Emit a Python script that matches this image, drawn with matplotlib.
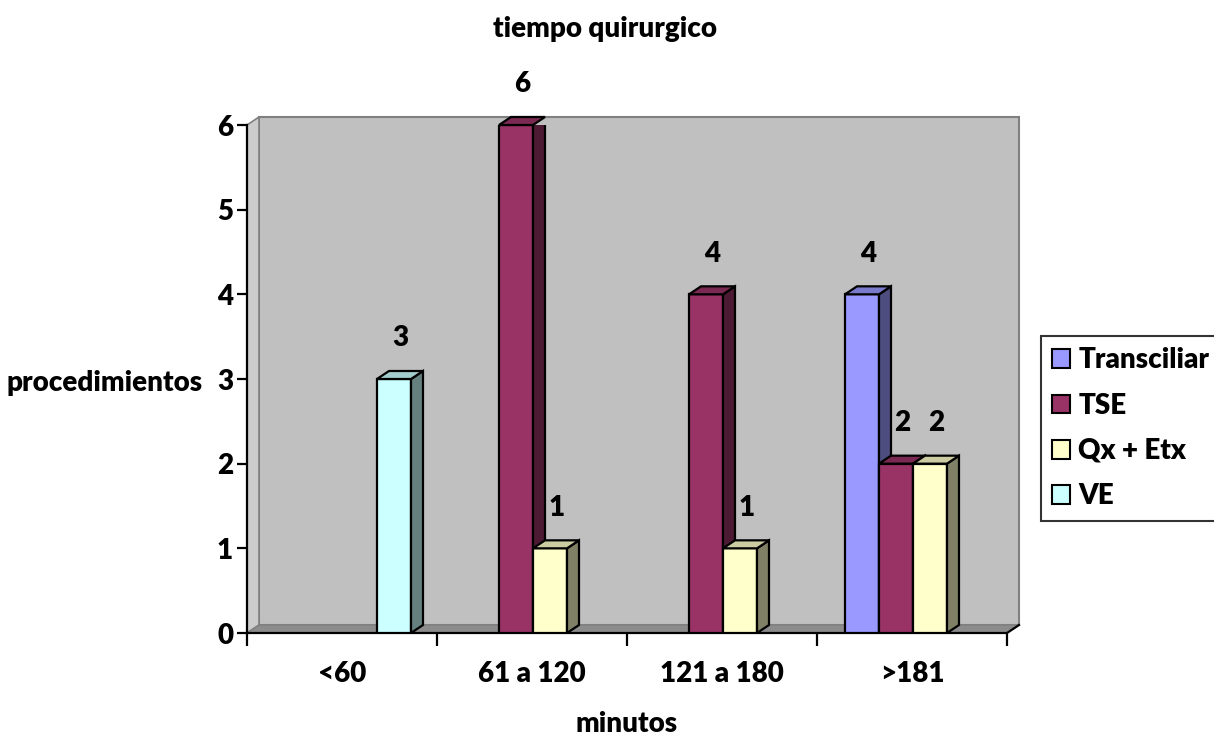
import matplotlib
matplotlib.use("Agg")
import matplotlib.pyplot as plt
from matplotlib.patches import Polygon, Patch
import numpy as np

categories = ['<60', '61 a 120', '121 a 180', '>181']
series_names = ['Transciliar', 'TSE', 'Qx + Etx', 'VE']
transciliar = [0, 0, 0, 4]
tse = [0, 6, 4, 2]
qx_etx = [0, 1, 1, 2]
ve = [3, 0, 0, 0]
series_values = [transciliar, tse, qx_etx, ve]
colors = ['#9999FF', '#993366', '#FFFFCC', '#CCFFFF']
y_ticks = [0, 1, 2, 3, 4, 5, 6]

FONT = 'Lato'
FS = 20
W = 'heavy'
plt.rcParams['font.family'] = [FONT, 'DejaVu Sans']
plt.rcParams['font.weight'] = W

fig = plt.figure(figsize=(12.14, 7.38), dpi=100)
ax = fig.add_axes([247/1214, 105/738, 760/1214, 508/738])
ax.set_xlim(0, 4)
ax.set_ylim(0, 6)

# 3D depth offsets in data units
dx = 12/190
dy = 8/(508/6)

def shade(c, f):
    r, g, b = matplotlib.colors.to_rgb(c)
    return (r*f, g*f, b*f)

# back wall, side wall, floor
wall = Polygon([(dx, dy), (4+dx, dy), (4+dx, 6+dy), (dx, 6+dy)], closed=True,
               facecolor='#C0C0C0', edgecolor='#808080', lw=1.5, zorder=0.5, clip_on=False)
ax.add_patch(wall)
side = Polygon([(0, 0), (dx, dy), (dx, 6+dy), (0, 6)], closed=True,
               facecolor='#CCCCCC', edgecolor='#808080', lw=1.2, zorder=0.6, clip_on=False)
ax.add_patch(side)
floor = Polygon([(0, 0), (4, 0), (4+dx, dy), (dx, dy)], closed=True,
                facecolor='#8C8C8C', edgecolor='#808080', lw=1.0, zorder=0.7, clip_on=False)
ax.add_patch(floor)
ax.plot([0, 4, 4+dx], [0, 0, dy], color='black', lw=1.6, zorder=0.8, clip_on=False)

bw = 34/190
start = 28/190
z = 2
for ci in range(len(categories)):
    for si, vals in enumerate(series_values):
        v = vals[ci]
        if v <= 0:
            continue
        x0 = ci + start + si*bw
        x1 = x0 + bw
        col = colors[si]
        ax.bar(x0, v, width=bw, align='edge', color=col, edgecolor='black', lw=1.6, zorder=z)
        ax.add_patch(Polygon([(x1, 0), (x1+dx, dy), (x1+dx, v+dy), (x1, v)], closed=True,
                             facecolor=shade(col, 0.5), edgecolor='black', lw=1.6, zorder=z))
        ax.add_patch(Polygon([(x0, v), (x1, v), (x1+dx, v+dy), (x0+dx, v+dy)], closed=True,
                             facecolor=shade(col, 0.8), edgecolor='black', lw=1.6, zorder=z,
                             clip_on=False))
        ax.text(x0 + bw/2 + 0.033, v + 0.48, str(v), ha='center', va='center',
                fontsize=FS, fontweight=W, zorder=10, clip_on=False)
        z += 1

for s in ['top', 'right', 'bottom']:
    ax.spines[s].set_visible(False)
ax.spines['left'].set_linewidth(1.6)
ax.spines['left'].set_zorder(1)
ax.set_yticks(y_ticks)
ax.set_yticklabels([str(t) for t in y_ticks], fontsize=FS, fontweight=W)
ax.tick_params(axis='y', direction='out', length=7, width=1.6, pad=3)

ax.set_xticks(np.arange(0, 5))
ax.set_xticklabels([])
ax.tick_params(axis='x', which='major', direction='out', length=9, width=1.6)
ax.set_xticks(np.arange(len(categories)) + 0.5, minor=True)
ax.set_xticklabels(categories, minor=True, fontsize=FS, fontweight=W)
ax.tick_params(axis='x', which='minor', length=0, pad=20)
ax.set_facecolor('none')

fig.text(605/1214, 1 - 29/738, 'tiempo quirurgico', ha='center', va='center', fontsize=FS, fontweight=W)
fig.text(627/1214, 1 - 724/738, 'minutos', ha='center', va='center', fontsize=FS, fontweight=W)
fig.text(105/1214, 1 - 383/738, 'procedimientos', ha='center', va='center', fontsize=FS, fontweight=W)

handles = [Patch(facecolor=c, edgecolor='black', lw=1.5) for c in colors]
leg = fig.legend(handles, series_names, loc='upper left', bbox_to_anchor=(1041/1214, 1 - 336/738),
                 frameon=True, fancybox=False, edgecolor='black', handlelength=0.65, handleheight=0.65,
                 handletextpad=0.3, labelspacing=0.7, borderpad=0.4, borderaxespad=0,
                 prop={'family': FONT, 'weight': W, 'size': FS})
leg.get_frame().set_linewidth(1.5)

fig.savefig('out.png', dpi=100)
